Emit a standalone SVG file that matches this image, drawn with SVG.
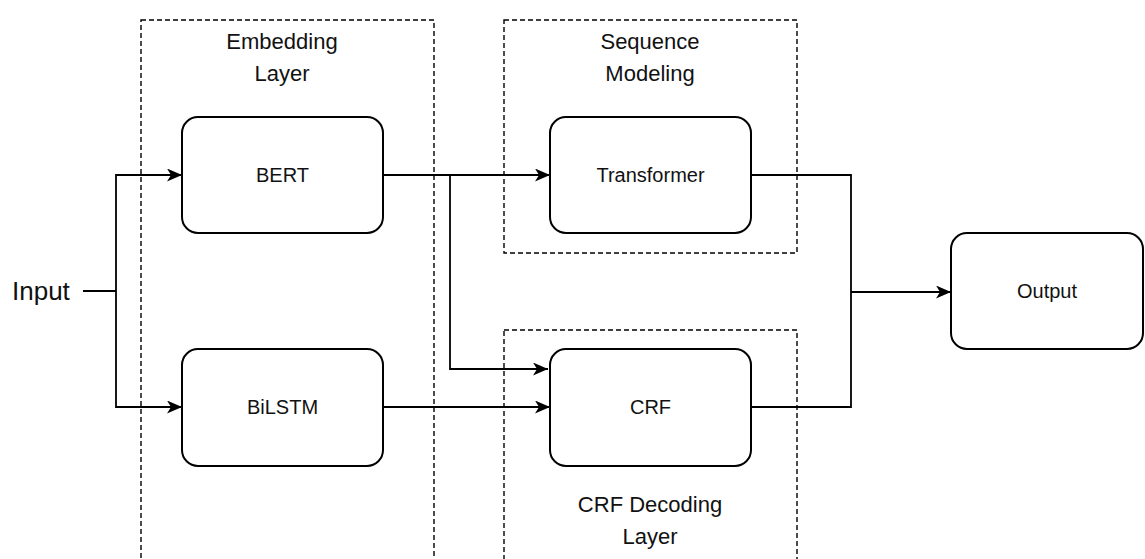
<svg xmlns="http://www.w3.org/2000/svg" width="1145" height="559" viewBox="0 0 1145 559">
  <style>
    .grp { fill: none; stroke: #000; stroke-width: 1.4; stroke-dasharray: 5 3; }
    .node { fill: #fff; stroke: #000; stroke-width: 2; }
    .conn { fill: none; stroke: #000; stroke-width: 1.8; }
    .glbl { font-family: "Liberation Sans", Arial, sans-serif; font-size: 22px; fill: #111; text-anchor: middle; }
    .nlbl { font-family: "Liberation Sans", Arial, sans-serif; font-size: 20px; fill: #111; text-anchor: middle; }
  </style>
  <defs>
    <marker id="arr" markerUnits="userSpaceOnUse" markerWidth="15" markerHeight="13" viewBox="0 0 15 13" refX="15" refY="6.5" orient="auto">
      <path d="M0,0 L15,6.5 L0,13 L4,6.5 Z" fill="#000"/>
    </marker>
  </defs>
  <rect width="1145" height="559" fill="#fff"/>

  <g id="group-embedding">
    <rect class="grp" x="141" y="20" width="293" height="560"/>
    <text class="glbl" x="282" y="49">Embedding</text>
    <text class="glbl" x="282" y="81">Layer</text>
  </g>
  <g id="group-sequence">
    <rect class="grp" x="504" y="20" width="293" height="233"/>
    <text class="glbl" x="650" y="49">Sequence</text>
    <text class="glbl" x="650" y="81">Modeling</text>
  </g>
  <g id="group-crf">
    <rect class="grp" x="504" y="330" width="293" height="250"/>
    <text class="glbl" x="650" y="512">CRF Decoding</text>
    <text class="glbl" x="650" y="544">Layer</text>
  </g>

  <g id="connectors">
    <path class="conn" d="M83,291 H116"/>
    <path class="conn" d="M116,291 V175 H182" marker-end="url(#arr)"/>
    <path class="conn" d="M116,291 V407 H182" marker-end="url(#arr)"/>
    <path class="conn" d="M383,175 H550" marker-end="url(#arr)"/>
    <path class="conn" d="M450,175 V369 H548" marker-end="url(#arr)"/>
    <path class="conn" d="M383,407 H550" marker-end="url(#arr)"/>
    <path class="conn" d="M751,175 H851 V407 H751"/>
    <path class="conn" d="M851,292 H951" marker-end="url(#arr)"/>
  </g>

  <g id="node-input">
    <text x="12" y="300" font-family="'Liberation Sans', Arial, sans-serif" font-size="26" fill="#111">Input</text>
  </g>
  <g id="node-bert">
    <rect class="node" x="182" y="117" width="201" height="116" rx="16" ry="16"/>
    <text class="nlbl" x="282.5" y="182">BERT</text>
  </g>
  <g id="node-bilstm">
    <rect class="node" x="182" y="349" width="201" height="117" rx="16" ry="16"/>
    <text class="nlbl" x="282.5" y="414">BiLSTM</text>
  </g>
  <g id="node-transformer">
    <rect class="node" x="550" y="117" width="201" height="116" rx="16" ry="16"/>
    <text class="nlbl" x="650.5" y="182">Transformer</text>
  </g>
  <g id="node-crf">
    <rect class="node" x="550" y="349" width="201" height="117" rx="16" ry="16"/>
    <text class="nlbl" x="650.5" y="414">CRF</text>
  </g>
  <g id="node-output">
    <rect class="node" x="951" y="233" width="192" height="116" rx="16" ry="16"/>
    <text class="nlbl" x="1047" y="298">Output</text>
  </g>
</svg>
